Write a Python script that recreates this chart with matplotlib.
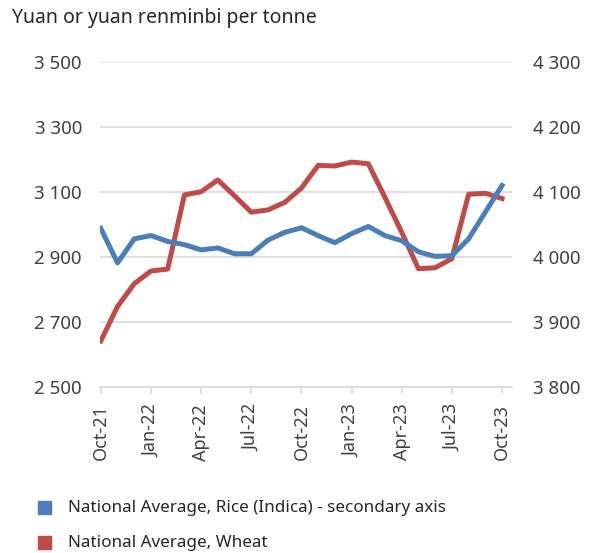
import numpy as np
import matplotlib.pyplot as plt

plt.rcParams["font.family"] = ["Noto Sans", "DejaVu Sans"]

months = ["Oct-21", "Nov-21", "Dec-21", "Jan-22", "Feb-22", "Mar-22", "Apr-22",
          "May-22", "Jun-22", "Jul-22", "Aug-22", "Sep-22", "Oct-22", "Nov-22",
          "Dec-22", "Jan-23", "Feb-23", "Mar-23", "Apr-23", "May-23", "Jun-23",
          "Jul-23", "Aug-23", "Sep-23", "Oct-23"]

# left axis
wheat = [2642, 2748, 2818, 2857, 2863, 3091, 3101, 3137, 3088, 3038, 3045,
         3068, 3112, 3182, 3180, 3192, 3187, 3083, 2976, 2864, 2867, 2895,
         3093, 3096, 3080]
# right axis (secondary)
rice = [4044, 3991, 4028, 4033, 4024, 4019, 4011, 4014, 4005, 4005, 4026,
        4038, 4045, 4033, 4022, 4036, 4047, 4033, 4025, 4008, 4001, 4002,
        4028, 4069, 4110]

left_ticks = [2500, 2700, 2900, 3100, 3300, 3500]
right_ticks = [3800, 3900, 4000, 4100, 4200, 4300]

BLUE = "#4a7ebb"
RED = "#be4b48"
TXT = "#404040"
GRID = "#d9d9d9"

fig = plt.figure(figsize=(6.06, 5.53), dpi=100)
ax = fig.add_axes([0.165, 0.300, 0.680, 0.588])
ax2 = ax.twinx()

x = np.arange(len(months))
ax.plot(x, wheat, color=RED, linewidth=3.6, solid_joinstyle="round", zorder=3)
ax2.plot(x, rice, color=BLUE, linewidth=3.6, solid_joinstyle="round", zorder=3)

ax.set_xlim(-0.05, 24.6)
ax.set_ylim(2500, 3500)
ax2.set_ylim(3800, 4300)
ax.set_yticks(left_ticks)
ax.set_yticklabels([f"{v:,}".replace(",", " ") for v in left_ticks])
ax2.set_yticks(right_ticks)
ax2.set_yticklabels([f"{v:,}".replace(",", " ") for v in right_ticks])

ax.grid(axis="y", color=GRID, linewidth=1.2)
ax.set_axisbelow(True)

ax.set_xticks(x[::3])
ax.set_xticklabels(months[::3], rotation=90)

for a in (ax, ax2):
    for s in a.spines.values():
        s.set_visible(False)
    a.tick_params(axis="y", length=0, labelsize=13.5, labelcolor=TXT)
ax.spines["bottom"].set_visible(True)
ax.spines["bottom"].set_color(GRID)
ax.spines["bottom"].set_linewidth(1.2)
ax.tick_params(axis="y", pad=13)
ax2.tick_params(axis="y", pad=15)
ax.tick_params(axis="x", length=5, color=GRID, width=1.2, labelsize=13,
               labelcolor=TXT, pad=7)

fig.text(0.02, 0.967, "Yuan or yuan renminbi per tonne", fontsize=14,
         color="#262626", va="center", ha="left")

# legend
fig.patches.append(plt.Rectangle((0.063, 0.071), 0.021, 0.023, color=BLUE,
                                 transform=fig.transFigure, figure=fig))
fig.patches.append(plt.Rectangle((0.063, 0.007), 0.021, 0.023, color=RED,
                                 transform=fig.transFigure, figure=fig))
fig.text(0.112, 0.082, "National Average, Rice (Indica) - secondary axis",
         fontsize=12.3, color="#262626", va="center", ha="left")
fig.text(0.112, 0.018, "National Average, Wheat",
         fontsize=12.3, color="#262626", va="center", ha="left")

fig.savefig("out.png", dpi=100)
